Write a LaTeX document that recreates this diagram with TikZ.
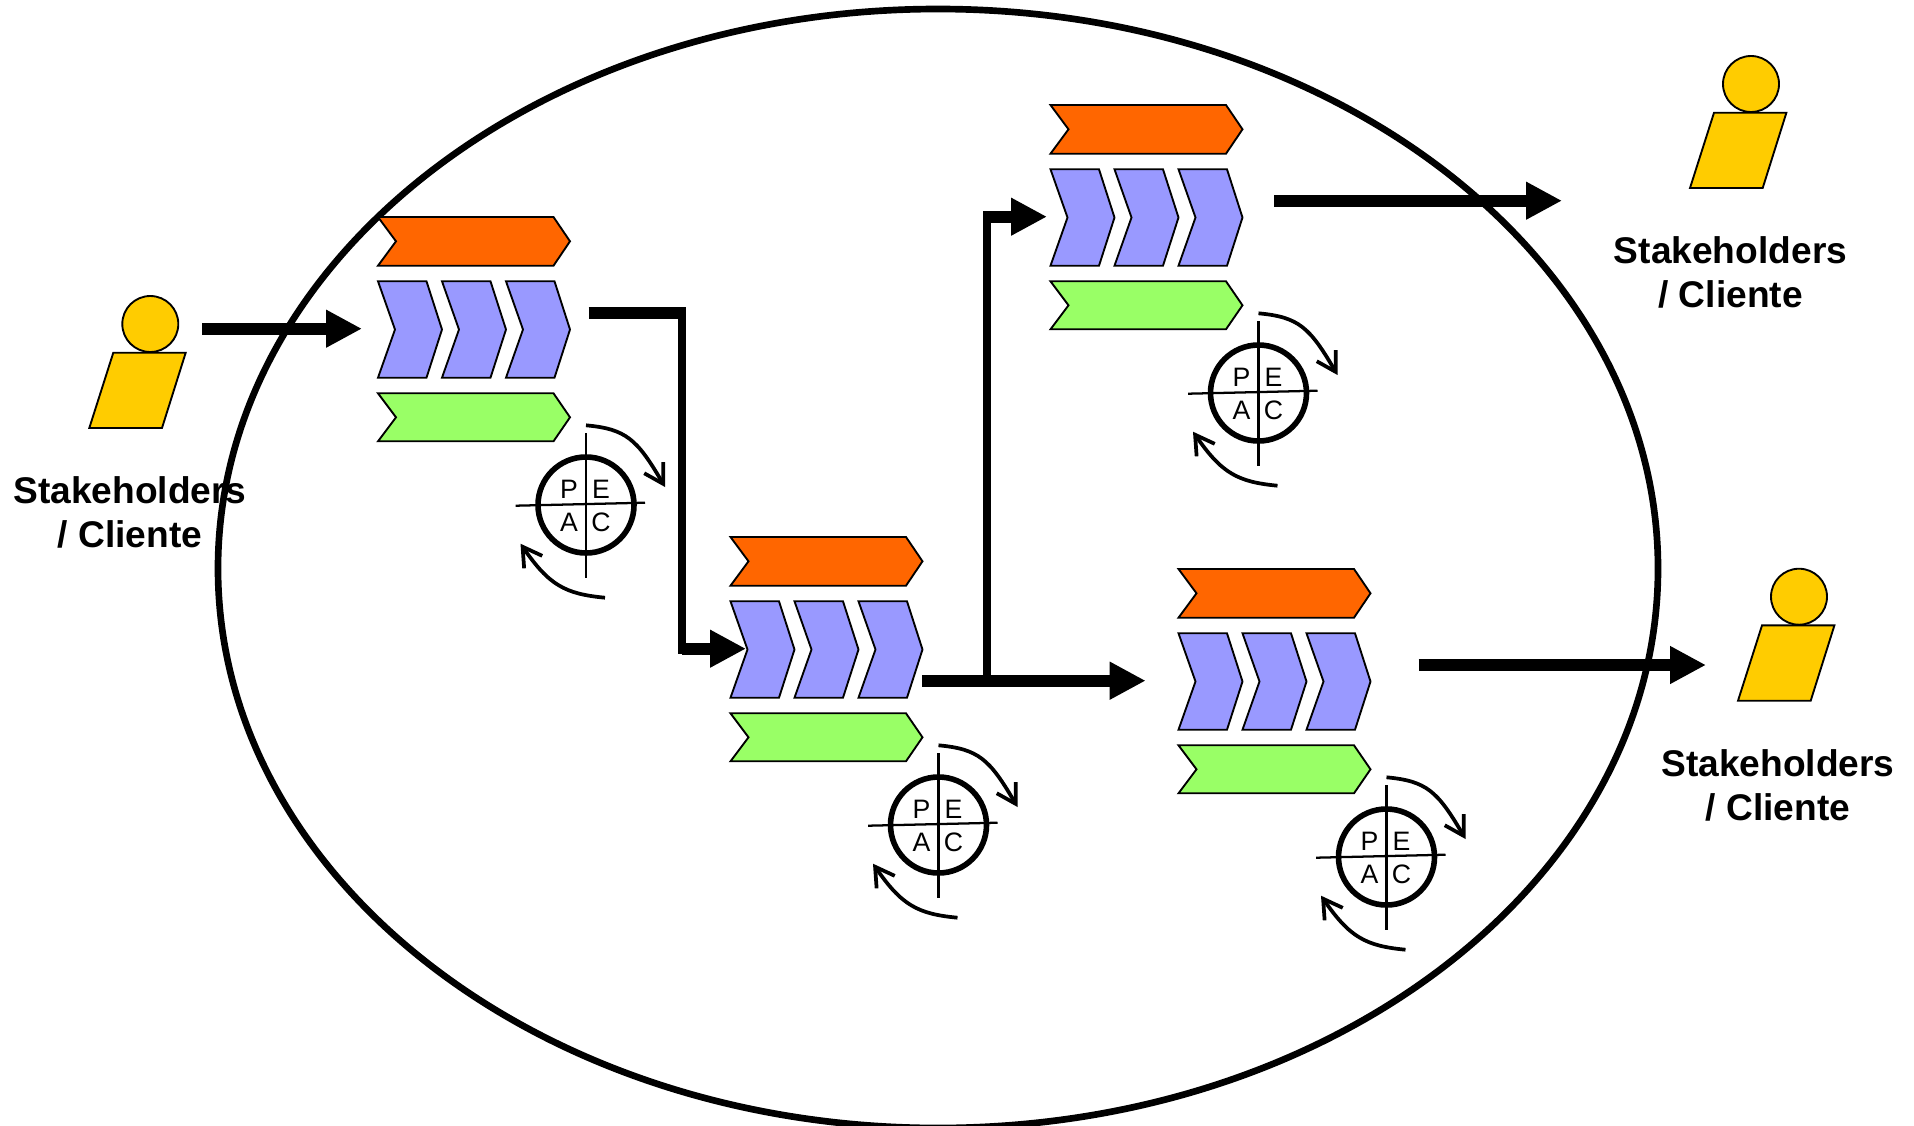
\documentclass[tikz,border=0pt]{standalone}
\usepackage{fontspec}
\setmainfont{Liberation Sans}
\usetikzlibrary{arrows.meta}

\definecolor{laranja}{HTML}{FF6600}
\definecolor{azul}{HTML}{9999FF}
\definecolor{verde}{HTML}{99FF66}
\definecolor{amarelo}{HTML}{FFCC00}

\tikzset{
  contorno/.style={draw=black, line width=1.4pt, line join=miter},
  seta/.style={line width=8.8pt, -{Triangle[length=27pt,width=26.6pt]}},
  haste/.style={line width=8.8pt},
  hastefina/.style={line width=6pt},
  giro/.style={line width=2.8pt, -{Straight Barb[length=14pt,width=16.5pt,line width=2.8pt]}},
  letra/.style={inner sep=0pt, font=\fontsize{20}{22}\selectfont},
  rotulo/.style={align=center, inner sep=0pt, font=\fontsize{27.85}{33}\selectfont\bfseries},
  bloco/.pic={
    % Orange and green bands
    \fill[laranja, contorno] (0,0)--(175.5,0)--(192,24.3)--(175.5,48.7)--(0,48.7)--(18,24.3)--cycle;
    \fill[verde, contorno] (0,176.3)--(175.5,176.3)--(192,200.3)--(175.5,224.3)--(0,224.3)--(18,200.3)--cycle;
    % Three blue chevrons
    \foreach \i in {0,1,2} {
      \fill[azul, contorno, shift={(64*\i,0)}] (0,64.3)--(48.5,64.3)--(64,112.5)--(48.5,160.7)--(0,160.7)--(17,112.5)--cycle;
    }
    % Cycle with its four letters
    \draw[line width=4.2pt] (208,288) circle (48);
    \draw[line width=1.7pt] (137.7,288.7)--(267,285.7);
    \draw[line width=1.7pt] (208,216)--(208,361);
    \node[letra] (-p) at (191,272) {P};
    \node[letra] (-e) at (223,272) {E};
    \node[letra] (-a) at (191,305) {A};
    \node[letra] (-c) at (223,305) {C};
    % Curved arrows round the cycle
    \draw[giro] (208,208.3) .. controls (248,212) and (259,222) .. (287,270);
    \draw[giro] (227,380.7) .. controls (187,377) and (171,368) .. (142.5,326.7);
  },
  pessoa/.pic={
    \draw[fill=amarelo, contorno] (0,0) circle (28);
    \fill[amarelo, contorno] (-37,28.7)--(35.4,28.7)--(11.7,104)--(-61,104)--cycle;
  },
}

\begin{document}
\begin{tikzpicture}[x=0.75pt, y=-0.75pt]
  \useasboundingbox (0,0) rectangle (1914,1125);
  \clip (0,0) rectangle (1914,1125);

  % Organisation boundary
  \draw[line width=5pt] (938,568.5) ellipse [x radius=720, y radius=559.5];

  % Stakeholders and their labels
  \pic (pessoa1) at (150.3,324) {pessoa};
  \pic (pessoa2) at (1751,84) {pessoa};
  \pic (pessoa3) at (1799,596.7) {pessoa};
  \node[rotulo] (rotulo1) at (130,512.8) {Stakeholders\\/ Cliente};
  \node[rotulo] (rotulo2) at (1730.5,272.9) {Stakeholders\\/ Cliente};
  \node[rotulo] (rotulo3) at (1778,785) {Stakeholders\\/ Cliente};

  % Process blocks
  \pic (bloco1) at (378,217) {bloco};
  \pic (bloco2) at (730.5,537) {bloco};
  \pic (bloco3) at (1050.5,105) {bloco};
  \pic (bloco4) at (1178.5,569) {bloco};

  % Ends of the connectors
  \coordinate (e1) at (202,328.7);
  \coordinate (f1) at (362,328.7);
  \coordinate (e2) at (588.7,312.7);
  \coordinate (k2) at (686,312.7);
  \coordinate (v2a) at (682,307);
  \coordinate (v2b) at (682,654);
  \coordinate (k3) at (682,648.7);
  \coordinate (f2) at (746,648.7);
  \coordinate (e4) at (922.3,680.7);
  \coordinate (f4) at (1145.7,680.7);
  \coordinate (v5a) at (986.5,686);
  \coordinate (v5b) at (986.5,211);
  \coordinate (k5) at (986.5,216.7);
  \coordinate (f5) at (1047,216.7);
  \coordinate (e6) at (1274.3,200.7);
  \coordinate (f6) at (1562,200.7);
  \coordinate (e7) at (1418.5,665);
  \coordinate (f7) at (1706,665);

  % Connectors
  \draw[seta] (e1)--(f1);
  \draw[haste] (e2)--(k2);
  \draw[hastefina] (v2a)--(v2b);
  \draw[seta] (k3)--(f2);
  \draw[seta] (e4)--(f4);
  \draw[hastefina] (v5a)--(v5b);
  \draw[seta] (k5)--(f5);
  \draw[seta] (e6)--(f6);
  \draw[seta] (e7)--(f7);
\end{tikzpicture}
\end{document}
